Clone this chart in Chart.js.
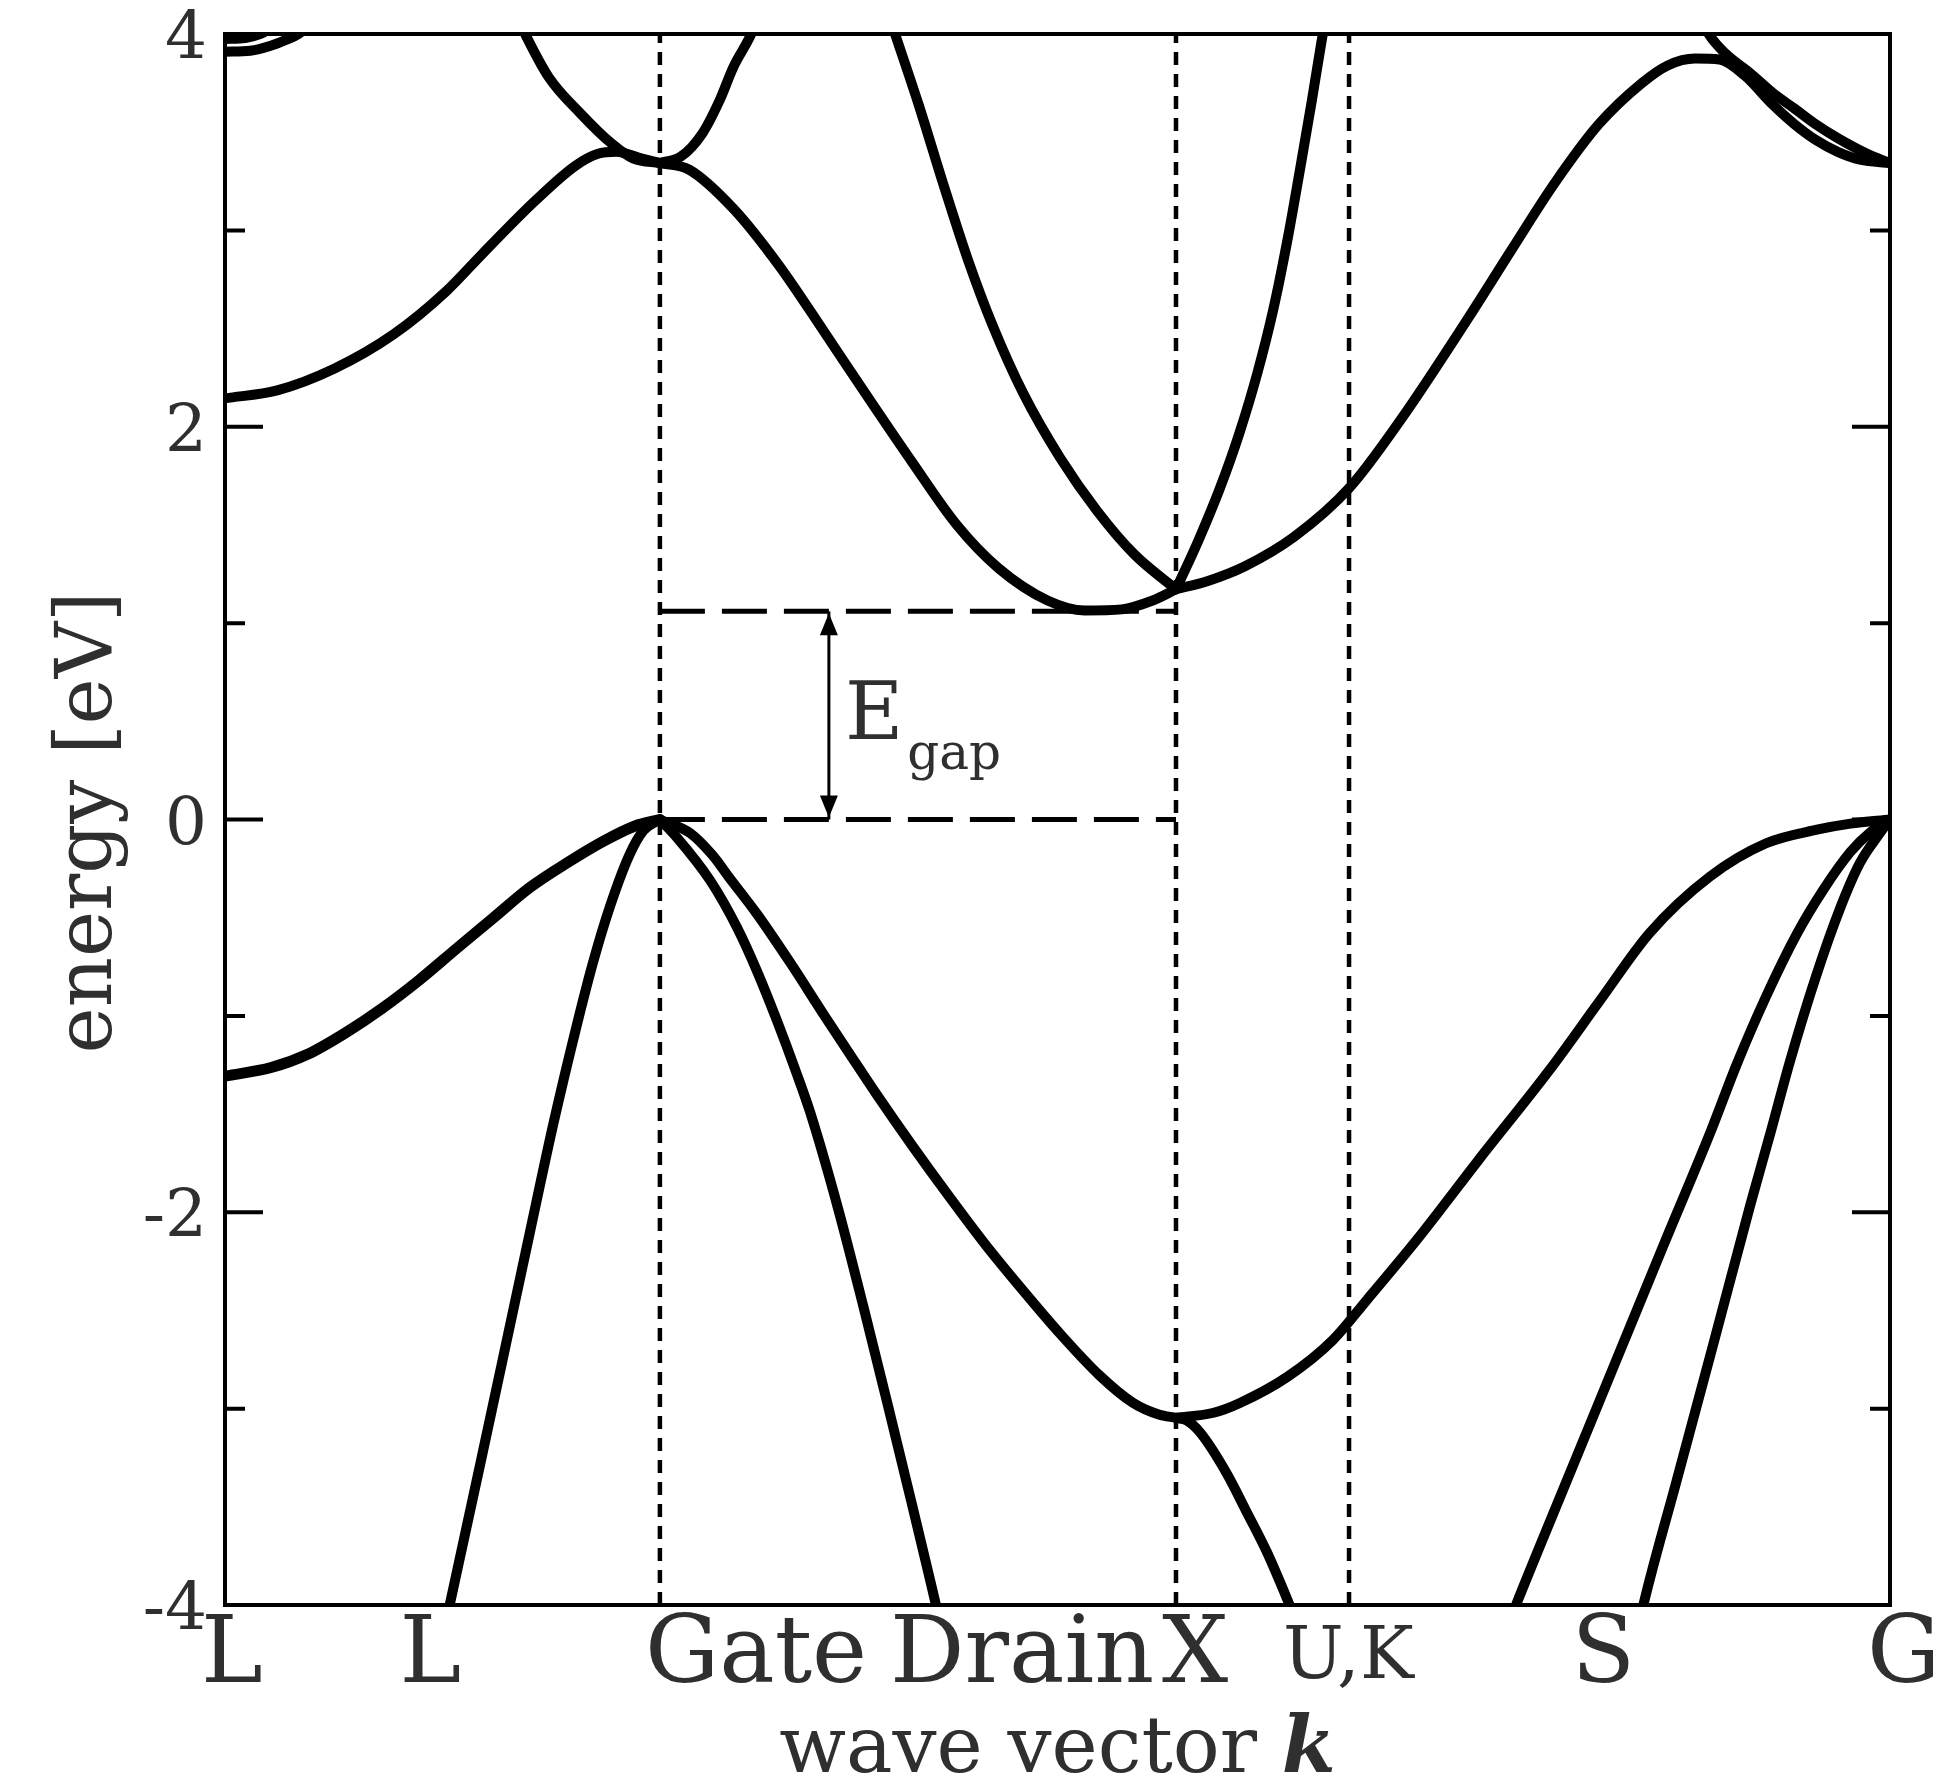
<!DOCTYPE html>
<html>
<head>
<meta charset="utf-8">
<script src="https://cdn.jsdelivr.net/npm/chart.js@4/dist/chart.umd.min.js"></script>
<style>
  html, body { margin: 0; padding: 0; background: #ffffff; }
  canvas { display: block; }
</style>
</head>
<body>
<canvas id="bands" width="1933" height="1784"></canvas>
<script>
// k-path (units of 2π/a): L, Γ, X, U/K, Γ
const kPoints = [0, 0.857, 1.874, 2.215, 3.281];
const kDividers = [0.857, 1.874, 2.215];
const kLabels = ['L', 'L', 'Gate', 'Drain', 'X', 'U,K', 'S', 'G'];
const kLabelPos = [0, 0.4285, 0.857, 1.3655, 1.874, 2.215, 2.748, 3.281];
const yTicksMajor = [-4, -2, 0, 2, 4];
const yTicksMinor = [-3, -1, 1, 3];
const eGap = 1.06;        // conduction band minimum [eV]
const gapArrowK = 1.19;   // where the gap arrow stands

// conduction bands, [k, E]
const cbLowest = [
  [0, 2.145], [0.103, 2.185], [0.215, 2.295], [0.332, 2.47], [0.436, 2.69],
  [0.507, 2.88], [0.611, 3.15], [0.691, 3.33], [0.735, 3.39], [0.771, 3.40],
  [0.822, 3.365], [0.857, 3.343], [0.914, 3.31], [1.002, 3.11], [1.092, 2.82],
  [1.179, 2.49], [1.267, 2.15], [1.354, 1.82], [1.442, 1.50], [1.524, 1.28],
  [1.621, 1.115], [1.694, 1.064], [1.767, 1.07], [1.828, 1.115], [1.874, 1.172]
];
const cbLambdaUpper = [
  [0.57, 4.12], [0.592, 3.997], [0.638, 3.78], [0.701, 3.594], [0.761, 3.444],
  [0.805, 3.365], [0.857, 3.343]
];
const cbDeltaRising = [
  [0.857, 3.343], [0.898, 3.375], [0.941, 3.495], [0.975, 3.664], [1.002, 3.833],
  [1.034, 3.984], [1.05, 4.08]
];
const cbDeltaUpper = [
  [1.306, 4.11], [1.320, 4.003], [1.367, 3.639], [1.416, 3.231], [1.464, 2.85],
  [1.512, 2.52], [1.573, 2.17], [1.646, 1.84], [1.719, 1.57], [1.792, 1.35],
  [1.874, 1.172]
];
const cbXSteep = [
  [1.874, 1.172], [1.918, 1.42], [1.961, 1.69], [1.998, 1.96], [2.034, 2.27],
  [2.066, 2.60], [2.095, 2.97], [2.119, 3.32], [2.141, 3.65], [2.160, 3.95], [2.170, 4.10]
];
const cbXKGamma = [
  [1.874, 1.172], [1.937, 1.215], [2.010, 1.29], [2.107, 1.44], [2.216, 1.69],
  [2.318, 2.04], [2.449, 2.55], [2.535, 2.90], [2.620, 3.24], [2.707, 3.54],
  [2.792, 3.75], [2.843, 3.84], [2.897, 3.875], [2.945, 3.87], [2.994, 3.79],
  [3.050, 3.64], [3.093, 3.54], [3.135, 3.46], [3.178, 3.40], [3.222, 3.36], [3.281, 3.343]
];
const cbSigmaUpper = [
  [2.905, 4.10], [2.923, 4.003], [2.957, 3.90], [3.006, 3.80], [3.050, 3.70],
  [3.093, 3.62], [3.135, 3.54], [3.178, 3.47], [3.236, 3.39], [3.281, 3.343]
];
const cbLTopA = [[0, 3.91], [0.05, 3.915], [0.09, 3.94], [0.12, 3.97], [0.145, 4.0], [0.17, 4.06]];
const cbLTopB = [[0, 3.975], [0.04, 3.98], [0.07, 4.0], [0.09, 4.03]];

// valence bands, [k, E]
const vbHeavyLG = [
  [0, -1.307], [0.091, -1.263], [0.164, -1.194], [0.237, -1.087], [0.310, -0.961],
  [0.383, -0.817], [0.455, -0.660], [0.528, -0.503], [0.601, -0.346], [0.674, -0.221],
  [0.747, -0.109], [0.808, -0.033], [0.857, 0]
];
const vbLightLG = [
  [0.436, -4.08], [0.504, -3.27], [0.553, -2.68], [0.601, -2.10], [0.647, -1.55],
  [0.693, -1.05], [0.725, -0.73], [0.759, -0.44], [0.797, -0.18], [0.825, -0.055], [0.857, 0]
];
const vbLightGX = [
  [0.857, 0], [0.890, -0.09], [0.956, -0.31], [1.009, -0.55], [1.048, -0.77],
  [1.087, -1.02], [1.126, -1.29], [1.153, -1.49], [1.208, -1.98], [1.257, -2.47],
  [1.306, -2.98], [1.354, -3.49], [1.391, -3.89], [1.41, -4.1]
];
const vbHeavyGX = [
  [0.857, 0], [0.917, -0.07], [0.960, -0.18], [0.995, -0.30], [1.048, -0.48],
  [1.114, -0.73], [1.179, -0.99], [1.230, -1.19], [1.284, -1.40], [1.354, -1.66],
  [1.427, -1.92], [1.500, -2.17], [1.573, -2.40], [1.646, -2.62], [1.723, -2.83],
  [1.789, -2.97], [1.840, -3.03], [1.874, -3.047]
];
const vbHeavyXG = [
  [1.874, -3.047], [1.948, -3.021], [2.0, -2.971], [2.093, -2.839], [2.183, -2.651],
  [2.251, -2.444], [2.350, -2.136], [2.472, -1.728], [2.610, -1.276], [2.710, -0.92],
  [2.807, -0.579], [2.926, -0.291], [3.037, -0.121], [3.137, -0.052], [3.203, -0.021], [3.281, 0]
];
const vbXLower = [
  [1.874, -3.047], [1.895, -3.06], [1.921, -3.12], [1.974, -3.33], [2.014, -3.53],
  [2.053, -3.73], [2.093, -3.97], [2.11, -4.08]
];
const vbSigmaA = [
  [2.532, -4.08], [2.544, -4.0], [2.642, -3.38], [2.739, -2.77], [2.836, -2.16],
  [2.926, -1.60], [2.980, -1.24], [3.037, -0.90], [3.098, -0.58], [3.149, -0.36],
  [3.203, -0.165], [3.242, -0.065], [3.281, 0]
];
const vbSigmaB = [
  [2.79, -4.06], [2.795, -4.0], [2.860, -3.372], [2.933, -2.670], [3.006, -1.960],
  [3.045, -1.60], [3.084, -1.23], [3.135, -0.80], [3.183, -0.45], [3.222, -0.22],
  [3.261, -0.07], [3.281, 0]
];

const bandSets = [
  cbLowest, cbLambdaUpper, cbDeltaRising, cbDeltaUpper, cbXSteep, cbXKGamma,
  cbSigmaUpper, cbLTopA, cbLTopB,
  vbHeavyLG, vbLightLG, vbLightGX, vbHeavyGX, vbHeavyXG, vbXLower, vbSigmaA, vbSigmaB
];

const toXY = pts => pts.map(([k, e]) => ({ x: k, y: e }));

const datasets = bandSets.map(b => ({
  data: toXY(b),
  borderColor: '#000000',
  borderWidth: b === vbHeavyLG ? 11 : 10,
  pointRadius: 0,
  fill: false,
  cubicInterpolationMode: 'monotone',
  borderCapStyle: 'round',
  borderJoinStyle: 'round',
  clip: 0
}));

// band-gap marker: dashed levels at E_gap and at the valence band maximum
datasets.push({
  data: toXY([[kPoints[1], eGap], [kPoints[2], eGap]]),
  borderColor: '#000000', borderWidth: 5, borderDash: [45, 17],
  pointRadius: 0, fill: false, tension: 0, clip: 0
});
datasets.push({
  data: toXY([[kPoints[1], 0], [kPoints[2], 0]]),
  borderColor: '#000000', borderWidth: 5, borderDash: [45, 17],
  pointRadius: 0, fill: false, tension: 0, clip: 0
});
// gap arrow shaft
datasets.push({
  data: toXY([[gapArrowK, 0], [gapArrowK, eGap]]),
  borderColor: '#000000', borderWidth: 3,
  pointRadius: 0, fill: false, tension: 0, clip: 0
});
// dotted lines at the high-symmetry points
kDividers.forEach(k => datasets.push({
  data: toXY([[k, -4], [k, 4]]),
  borderColor: '#000000', borderWidth: 4.5, borderDash: [13, 9],
  pointRadius: 0, fill: false, tension: 0, clip: 0
}));

const SERIF = '"DejaVu Serif", "Liberation Serif", serif';
const INK = '#2f2f2f';
// horizontal nudges of the path labels (px, relative to their k position)
const labelNudge = [-24, -43, -15, -28, -14, -66, -48, -23];

function arrowHead(ctx, x, tipY, dir) {
  // dir = -1 points up, +1 points down
  ctx.beginPath();
  ctx.moveTo(x, tipY);
  ctx.lineTo(x - 9, tipY - dir * 22);
  ctx.lineTo(x + 9, tipY - dir * 22);
  ctx.closePath();
  ctx.fill();
}

const decor = {
  id: 'decor',
  afterDatasetsDraw(chart) {
    const { ctx, chartArea: a, scales: { x, y } } = chart;
    ctx.save();

    // arrow heads of the gap marker
    ctx.fillStyle = '#000000';
    const ax = x.getPixelForValue(gapArrowK);
    arrowHead(ctx, ax, y.getPixelForValue(eGap) + 2, -1);
    arrowHead(ctx, ax, y.getPixelForValue(0) - 2, 1);

    // frame
    ctx.strokeStyle = '#000000';
    ctx.lineWidth = 4;
    ctx.strokeRect(a.left, a.top, a.right - a.left, a.bottom - a.top);

    // inward ticks on both energy axes
    const tick = (v, len) => {
      const py = y.getPixelForValue(v);
      ctx.beginPath();
      ctx.moveTo(a.left, py); ctx.lineTo(a.left + len, py);
      ctx.moveTo(a.right, py); ctx.lineTo(a.right - len, py);
      ctx.stroke();
    };
    yTicksMajor.forEach(v => tick(v, 38));
    yTicksMinor.forEach(v => tick(v, 20));

    ctx.fillStyle = INK;
    ctx.textBaseline = 'alphabetic';

    // energy tick labels
    ctx.font = `66px ${SERIF}`;
    ctx.textAlign = 'right';
    yTicksMajor.forEach(v => {
      ctx.fillText(String(v), a.left - 18, y.getPixelForValue(v) + 24);
    });

    // path labels
    ctx.textAlign = 'left';
    kLabels.forEach((t, i) => {
      const small = t === 'U,K';
      ctx.font = `${small ? 72 : 93}px ${SERIF}`;
      ctx.fillText(t, x.getPixelForValue(kLabelPos[i]) + labelNudge[i], a.bottom + (small ? 73 : 77));
    });

    // x title: "wave vector k"
    const plain = 'wave vector ';
    ctx.font = `78px ${SERIF}`;
    const w1 = ctx.measureText(plain).width;
    ctx.font = `italic bold 78px ${SERIF}`;
    const w2 = ctx.measureText('k').width;
    const x0 = (a.left + a.right) / 2 - (w1 + w2) / 2;
    const base = a.bottom + 167;
    ctx.font = `78px ${SERIF}`;
    ctx.fillText(plain, x0, base);
    ctx.font = `italic bold 78px ${SERIF}`;
    ctx.fillText('k', x0 + w1, base);

    // y title
    ctx.save();
    ctx.translate(111, (a.top + a.bottom) / 2 + 3);
    ctx.rotate(-Math.PI / 2);
    ctx.textAlign = 'center';
    ctx.font = `78px ${SERIF}`;
    ctx.fillText('energy [eV]', 0, 0);
    ctx.restore();

    // E_gap label
    const ey = y.getPixelForValue(eGap / 2);
    ctx.textAlign = 'left';
    ctx.font = `80px ${SERIF}`;
    const ex = ax + 16;
    ctx.fillText('E', ex, ey + 24);
    const ew = ctx.measureText('E').width;
    ctx.font = `50px ${SERIF}`;
    ctx.fillText('gap', ex + ew + 4, ey + 54);

    ctx.restore();
  }
};

new Chart(document.getElementById('bands'), {
  type: 'line',
  data: { datasets },
  options: {
    responsive: false,
    devicePixelRatio: 1,
    animation: false,
    events: [],
    layout: { padding: { left: 225, right: 43, top: 34, bottom: 179 } },
    plugins: { legend: { display: false }, tooltip: { enabled: false }, title: { display: false } },
    scales: {
      x: { type: 'linear', min: kPoints[0], max: kPoints[kPoints.length - 1], display: false },
      y: { type: 'linear', min: -4, max: 4, display: false }
    }
  },
  plugins: [decor]
});
</script>
</body>
</html>
